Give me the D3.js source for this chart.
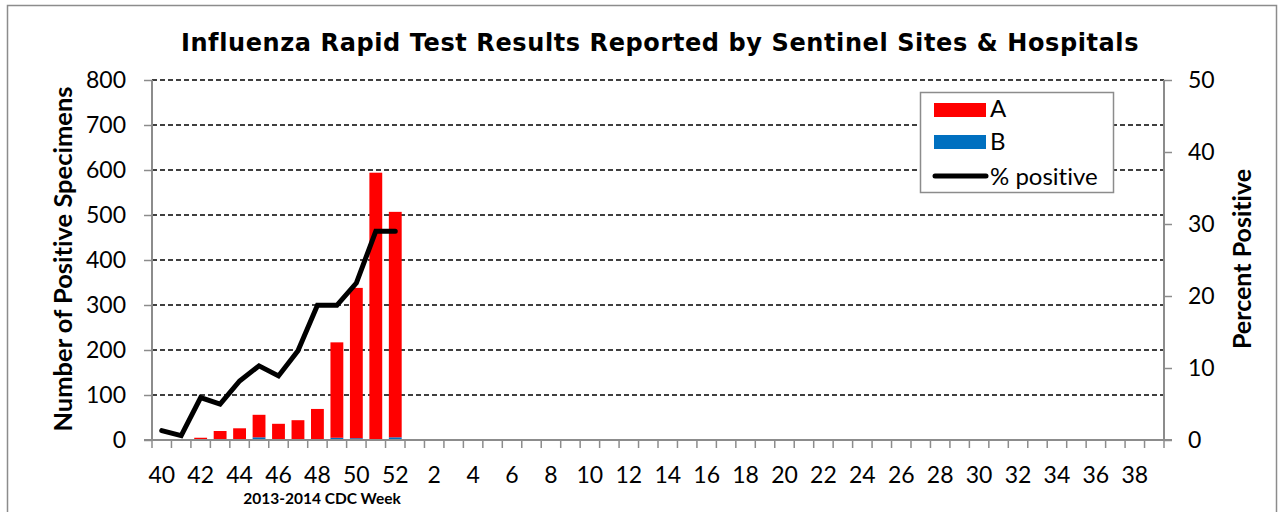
<!DOCTYPE html>
<html><head><meta charset="utf-8">
<script src="https://cdn.jsdelivr.net/npm/d3@7"></script>
<style>body{margin:0;background:#fff}svg{display:block}text{font-variant-ligatures:none;font-feature-settings:"liga" 0}</style>
</head><body>
<svg id="c" width="1283" height="512"></svg>
<script>
const weeks = [40,41,42,43,44,45,46,47,48,49,50,51,52,1,2,3,4,5,6,7,8,9,10,11,12,13,14,15,16,17,18,19,20,21,22,23,24,25,26,27,28,29,30,31,32,33,34,35,36,37,38,39];
const reportedWeeks = [40,41,42,43,44,45,46,47,48,49,50,51,52];
const fluA = [0,0,5,19,25,50,36,44,68,212,334,593,501];
const fluB = [0,0,0,1,1,6,0,0,1,5,4,1,6];
const pctPositive = [1.3,0.6,5.9,5.0,8.2,10.3,8.9,12.4,18.7,18.7,21.8,29.0,29.0];
const leftTicks = [0,100,200,300,400,500,600,700,800];
const rightTicks = [0,10,20,30,40,50];

const svg = d3.select("#c");
const L = 152, R = 1164, T = 80, B = 440;
const bodyFont = "Lato, 'Open Sans', sans-serif";

svg.append("rect").attr("x",7.5).attr("y",5.5).attr("width",1269).attr("height",530)
  .attr("fill","#fff").attr("stroke","#8c8c8c").attr("stroke-width",1.5);

const x = d3.scaleBand().domain(weeks.map(String)).range([L,R]).paddingInner(0.34).paddingOuter(0.17);
const xStep = d3.scaleBand().domain(weeks.map(String)).range([L,R]);
const y = d3.scaleLinear().domain([0,800]).range([B,T]);
const y2 = d3.scaleLinear().domain([0,50]).range([B,T]);

// gridlines
svg.append("g").selectAll("line").data(leftTicks.filter(d=>d>0)).join("line")
  .attr("x1",L).attr("x2",R).attr("y1",d=>y(d)).attr("y2",d=>y(d))
  .attr("stroke","#000").attr("stroke-width",1.3).attr("stroke-dasharray","5,3");

// bars
const stackData = reportedWeeks.map((w,i)=>({w:String(w),A:fluA[i],B:fluB[i]}));
svg.append("g").selectAll("rect").data(stackData).join("rect")
  .attr("x",d=>x(d.w)).attr("width",x.bandwidth())
  .attr("y",d=>y(d.B)).attr("height",d=>y(0)-y(d.B)).attr("fill","#0070C0");
svg.append("g").selectAll("rect").data(stackData).join("rect")
  .attr("x",d=>x(d.w)).attr("width",x.bandwidth())
  .attr("y",d=>y(d.A+d.B)).attr("height",d=>y(d.B)-y(d.A+d.B)).attr("fill","#FF0000");

// axes
const gray = "#8c8c8c";
const la = svg.append("g").attr("transform",`translate(${L},0)`)
  .call(d3.axisLeft(y).tickValues(leftTicks).tickSize(8).tickPadding(18));
la.select(".domain").attr("stroke",gray).attr("stroke-width",2).attr("d",`M0,${T}V${B}`);
la.selectAll(".tick line").attr("stroke",gray).attr("stroke-width",1.5);
la.selectAll(".tick text").attr("font-family",bodyFont).attr("font-size",23).attr("fill","#000");

const ra = svg.append("g").attr("transform",`translate(${R},0)`)
  .call(d3.axisRight(y2).tickValues(rightTicks).tickSize(8).tickPadding(16));
ra.select(".domain").attr("stroke",gray).attr("stroke-width",2).attr("d",`M0,${T}V${B}`);
ra.selectAll(".tick line").attr("stroke",gray).attr("stroke-width",1.5);
ra.selectAll(".tick text").attr("font-family",bodyFont).attr("font-size",23).attr("fill","#000");

// x axis
const xa = svg.append("g").attr("transform",`translate(0,${B})`);
xa.append("line").attr("x1",L-8).attr("x2",R+8).attr("stroke",gray).attr("stroke-width",2);
xa.selectAll("line.t").data(weeks.concat([null])).join("line").attr("class","t")
  .attr("x1",(d,i)=>L+i*xStep.step()).attr("x2",(d,i)=>L+i*xStep.step())
  .attr("y1",0).attr("y2",8).attr("stroke",gray).attr("stroke-width",1.5);
xa.selectAll("text").data(weeks.filter((d,i)=>i%2===0)).join("text")
  .attr("x",d=>xStep(String(d))+xStep.bandwidth()/2).attr("y",43)
  .attr("text-anchor","middle").attr("font-family",bodyFont).attr("font-size",23).text(d=>d);

// line
const line = d3.line().x((d,i)=>xStep(String(reportedWeeks[i]))+xStep.bandwidth()/2).y(d=>y2(d));
svg.append("path").datum(pctPositive).attr("d",line).attr("fill","none")
  .attr("stroke","#000").attr("stroke-width",5).attr("stroke-linejoin","miter").attr("stroke-linecap","round");

// titles
svg.append("text").attr("x",660).attr("y",51).attr("text-anchor","middle")
  .attr("font-family","'DejaVu Sans', Verdana, sans-serif").attr("font-weight","bold").attr("font-size",24)
  .attr("letter-spacing",0.6)
  .text("Influenza Rapid Test Results Reported by Sentinel Sites & Hospitals");
svg.append("text").attr("transform","translate(72,259) rotate(-90)").attr("text-anchor","middle")
  .attr("font-family",bodyFont).attr("font-weight","bold").attr("font-size",25.5)
  .text("Number of Positive Specimens");
svg.append("text").attr("transform","translate(1251,259) rotate(-90)").attr("text-anchor","middle")
  .attr("font-family",bodyFont).attr("font-weight","bold").attr("font-size",25)
  .text("Percent Positive");
svg.append("text").attr("x",322).attr("y",504).attr("text-anchor","middle")
  .attr("font-family",bodyFont).attr("font-weight","bold").attr("font-size",15.5)
  .text("2013-2014 CDC Week");

// legend
const lg = svg.append("g");
lg.append("rect").attr("x",920.5).attr("y",92.5).attr("width",193).attr("height",100)
  .attr("fill","#fff").attr("stroke",gray).attr("stroke-width",1.5);
lg.append("rect").attr("x",934).attr("y",103).attr("width",52).attr("height",14).attr("fill","#FF0000");
lg.append("rect").attr("x",934).attr("y",135).attr("width",52).attr("height",14).attr("fill","#0070C0");
lg.append("line").attr("x1",935).attr("x2",986).attr("y1",176).attr("y2",176)
  .attr("stroke","#000").attr("stroke-width",5).attr("stroke-linecap","round");
const lt = [["A",117],["B",150],["% positive",185]];
lg.selectAll("text").data(lt).join("text").attr("x",990).attr("y",d=>d[1])
  .attr("font-family",bodyFont).attr("font-size",24).text(d=>d[0]);
</script>
</body></html>
